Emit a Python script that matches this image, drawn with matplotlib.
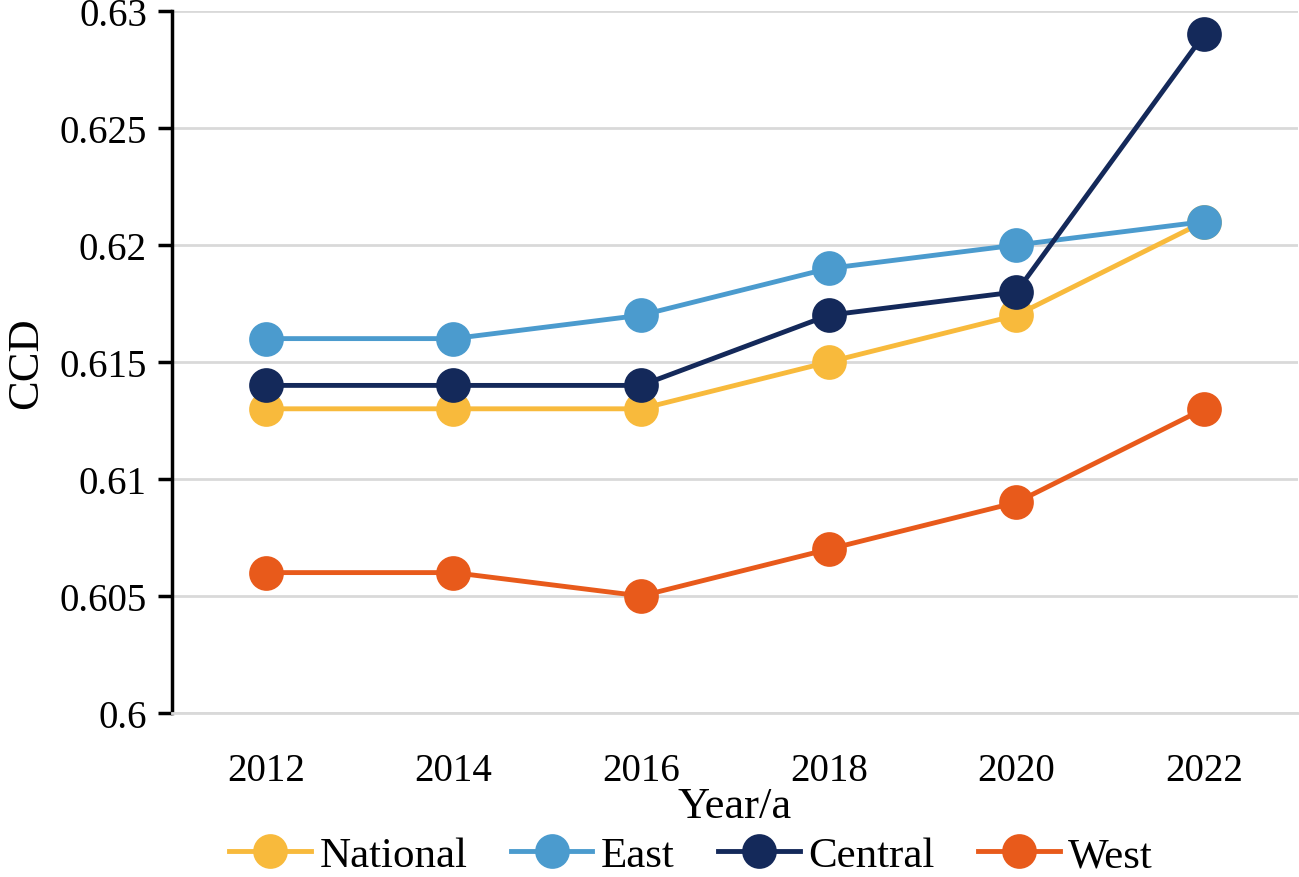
import matplotlib.pyplot as plt
import numpy as np

years = ['2012', '2014', '2016', '2018', '2020', '2022']
national = [0.613, 0.613, 0.613, 0.615, 0.617, 0.621]
east = [0.616, 0.616, 0.617, 0.619, 0.620, 0.621]
central = [0.614, 0.614, 0.614, 0.617, 0.618, 0.629]
west = [0.606, 0.606, 0.605, 0.607, 0.609, 0.613]
y_ticks = [0.6, 0.605, 0.61, 0.615, 0.62, 0.625, 0.63]
y_tick_labels = ['0.6', '0.605', '0.61', '0.615', '0.62', '0.625', '0.63']

plt.rcParams['font.family'] = ['Liberation Serif', 'DejaVu Serif']

fig = plt.figure(figsize=(12.99, 8.78), dpi=100)
ax = fig.add_axes([0.1324, 0.1868, 0.8668, 0.7995])

x = np.arange(len(years))
series = [
    ('National', national, '#F8BA3C'),
    ('East', east, '#4B9BCE'),
    ('Central', central, '#14295A'),
    ('West', west, '#E85A1B'),
]
for name, vals, col in series:
    ax.plot(x, vals, color=col, lw=3.5, marker='o', markersize=25,
            markeredgewidth=0, label=name, zorder=3, clip_on=False)

ax.set_xlim(-0.5, len(years) - 0.5)
ax.set_ylim(0.6, 0.63)
ax.set_xticks(x)
ax.set_xticklabels(years)
ax.set_yticks(y_ticks)
ax.set_yticklabels(y_tick_labels)
ax.tick_params(axis='x', length=0, labelsize=28, pad=28)
ax.tick_params(axis='y', length=10, width=2.5, direction='out', labelsize=28, pad=8)
ax.grid(axis='y', color='#D9D9D9', lw=2, zorder=0)
ax.set_axisbelow(True)

for s in ['top', 'right']:
    ax.spines[s].set_visible(False)
ax.spines['left'].set_linewidth(2.5)
ax.spines['bottom'].set_color('#D9D9D9')
ax.spines['bottom'].set_linewidth(2)

ax.set_ylabel('CCD', fontsize=32, labelpad=10)
ax.set_xlabel('Year/a', fontsize=32, labelpad=-2)

fig.legend(loc='lower center', bbox_to_anchor=(0.532, -0.042), ncol=4,
           frameon=False, fontsize=31, handlelength=1.9, columnspacing=1.0,
           handletextpad=0.2)

fig.savefig('out.png', dpi=100)
